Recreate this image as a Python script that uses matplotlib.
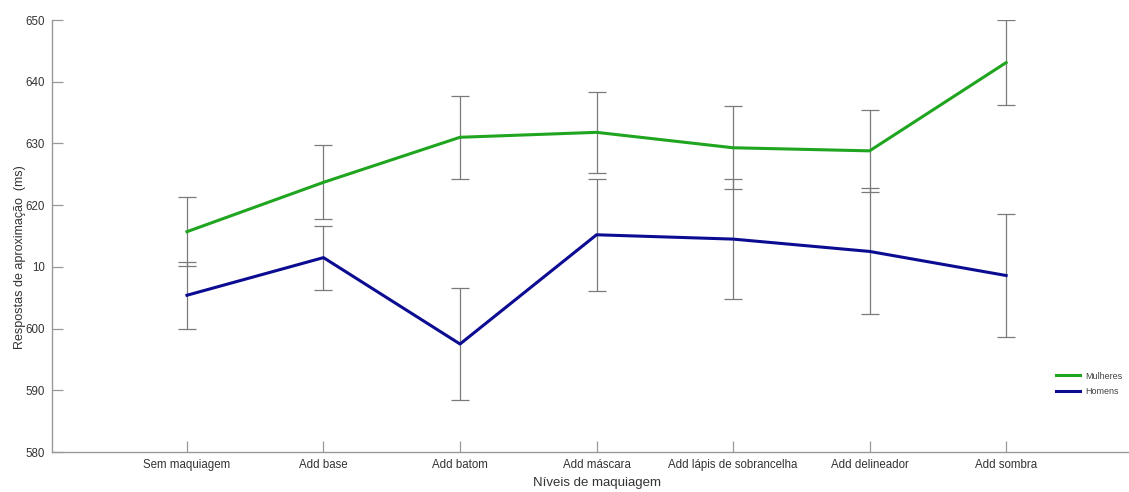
import matplotlib
matplotlib.use("Agg")
import matplotlib.pyplot as plt

plt.rcParams['font.family'] = ['Liberation Sans', 'DejaVu Sans']

categories = ["Sem maquiagem", "Add base", "Add batom", "Add máscara",
              "Add lápis de sobrancelha", "Add delineador", "Add sombra"]
women = [615.7, 623.7, 631.0, 631.8, 629.3, 628.8, 643.1]
women_err = [5.6, 6.0, 6.7, 6.6, 6.7, 6.6, 6.9]
men = [605.4, 611.5, 597.5, 615.2, 614.5, 612.5, 608.6]
men_err = [5.4, 5.2, 9.1, 9.1, 9.7, 10.2, 9.9]
yticks = [580, 590, 600, 610, 620, 630, 640, 650]
ytick_labels = ["580", "590", "600", "10", "620", "630", "640", "650"]

fig = plt.figure(figsize=(11.29, 4.92), dpi=100)
ax = fig.add_axes([0.046, 0.0813, 0.954, 0.878])

x = list(range(1, len(categories) + 1))
grey = '#7a7a7a'
green = '#1fa51f'
blue = '#0c0c92'

ax.errorbar(x, women, yerr=women_err, fmt='none', ecolor=grey, elinewidth=0.9,
            capsize=6.5, capthick=0.9, zorder=1)
ax.errorbar(x, men, yerr=men_err, fmt='none', ecolor=grey, elinewidth=0.9,
            capsize=6.5, capthick=0.9, zorder=1)
ax.plot(x, women, color=green, lw=2.2, label='Mulheres', zorder=3)
ax.plot(x, men, color=blue, lw=2.2, label='Homens', zorder=3)

ax.set_xlim(0.011, 7.90)
ax.set_ylim(580, 650)
ax.set_yticks(yticks)
ax.set_yticklabels(ytick_labels)
ax.set_xticks(x)
ax.set_xticklabels(categories)

for s in ['top', 'right']:
    ax.spines[s].set_visible(False)
for s in ['left', 'bottom']:
    ax.spines[s].set_color('#999999')
    ax.spines[s].set_linewidth(1.0)

ax.tick_params(axis='both', direction='in', length=8, width=0.9, color='#999999',
               labelsize=8.3, labelcolor='#333333')
ax.tick_params(axis='x', pad=5)
ax.tick_params(axis='y', pad=5)

ax.set_xlabel('Níveis de maquiagem', fontsize=9.5, color='#333333')
ax.xaxis.set_label_coords((4 - 0.011) / (7.90 - 0.011), -0.057)
ax.set_ylabel('Respostas de aproximação  (ms)', fontsize=9, color='#333333')
ax.yaxis.set_label_coords(-0.024, 0.45)

leg = ax.legend(loc='center left', bbox_to_anchor=(0.925, 0.158), frameon=False,
                fontsize=6.5, handlelength=2.6, handletextpad=0.6, labelspacing=0.7)
for t in leg.get_texts():
    t.set_color('#444444')

fig.savefig('out.png', dpi=100)
